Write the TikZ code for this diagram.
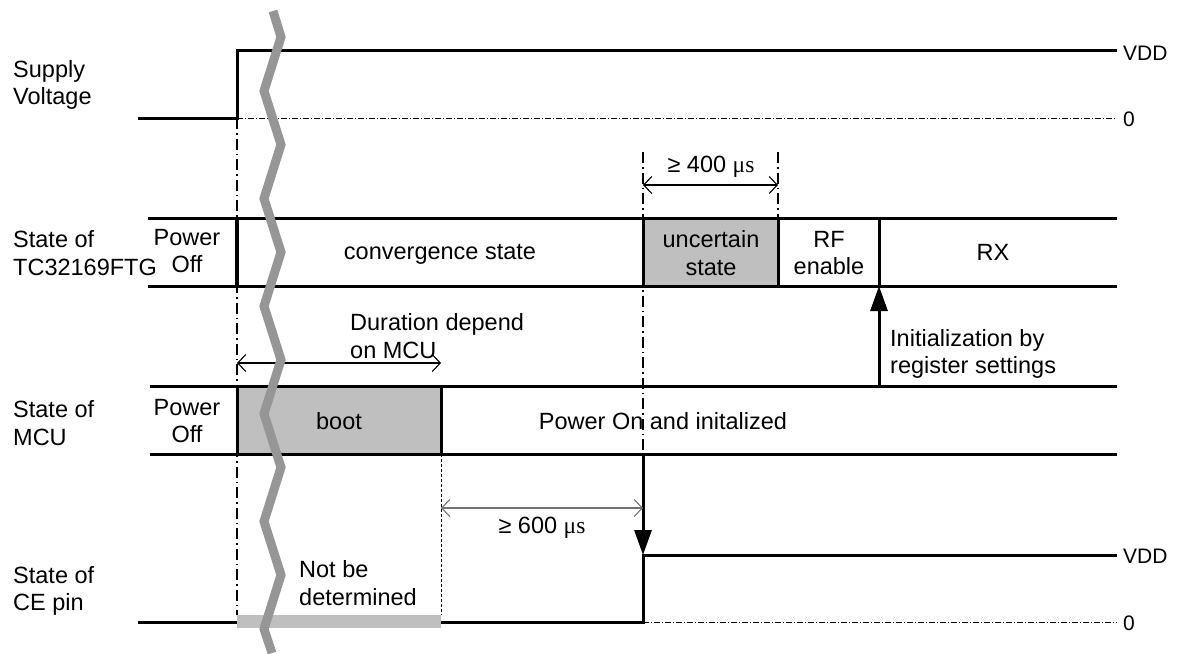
\documentclass[tikz,border=0pt]{standalone}
\usepackage{fontspec}
\setmainfont{Liberation Sans}
\newfontfamily\muserif{Liberation Serif}
\usetikzlibrary{arrows.meta}
\newcommand{\usec}{{\muserif μs}}
\begin{document}
\begin{tikzpicture}[x=1pt,y=-1pt,
		every node/.style={inner sep=0pt,font=\fontsize{23.5}{27.5}\selectfont},
		lvl/.style={font=\fontsize{21}{25}\selectfont,anchor=west},
		sig/.style={line width=3pt,line join=miter},
		zero/.style={line width=0.9pt,dash pattern=on 6pt off 2pt on 1pt off 2pt},
		tline/.style={line width=1.8pt,dash pattern=on 11pt off 4pt on 1.5pt off 4pt},
		dim/.style={line width=1.1pt,{Straight Barb[length=8pt,width=17pt]}-{Straight Barb[length=8pt,width=17pt]}},
		cause/.style={line width=3pt,-{Triangle[length=25pt,width=17pt]}},
		busy/.style={fill=black!25}]
	\useasboundingbox (0,0) rectangle (1177,653);
	\coordinate (pwr) at (237,363);
	\coordinate (bootend) at (441,363);
	\coordinate (u0) at (643,185);
	\coordinate (u1) at (778,185);
	\coordinate (w0) at (441,508);
	\coordinate (w1) at (643,508);
	\coordinate (cefrom) at (643,454);
	\coordinate (ceto) at (643,555);
	\coordinate (regfrom) at (879,386);
	\coordinate (regto) at (879,286);

	\fill[busy] (643,218) rectangle (778,286);
	\fill[busy] (237,386) rectangle (441,454);
	\fill[busy] (237,615) rectangle (441,628);

	\draw[zero] (237,118) -- (1117,118);
	\draw[zero] (643,622) -- (1117,622);
	\draw[tline] (237,118) -- (237,615);
	\draw[tline] (643,152) -- (643,454);
	\draw[tline] (778,152) -- (778,218);
	\draw[densely dashed,line width=0.9pt] (441,454) -- (441,615);

	\draw[sig] (138,118) -- (237,118) -- (237,50) -- (1117,50);
	\draw[sig] (148,218) -- (1117,218) (148,286) -- (1117,286);
	\draw[sig] \foreach \x in {643,778,879} {(\x,218) -- (\x,286)};
	\draw[sig,line width=3.8pt] (237,218) -- (237,286);
	\draw[sig] (150,386) -- (1117,386) (150,454) -- (1117,454);
	\draw[sig] (237,386) -- (237,454) (441,386) -- (441,454);
	\draw[sig] (138,622) -- (237,622) (441,622) -- (643,622) -- (643,555) -- (1117,555);

	\draw[cause] (cefrom) -- (ceto);
	\draw[cause] (regfrom) -- (regto);
	\draw[dim] (pwr) -- (bootend);
	\draw[dim] (u0) -- (u1);
	\draw[dim,draw=black!55] (w0) -- (w1);

	\node[anchor=west,align=left] (supply) at (13,85) {Supply\\Voltage};
	\node[anchor=west,align=left] (tclbl) at (13,253) {State of\\TC32169FTG};
	\node[anchor=west,align=left] (mculbl) at (13,423) {State of\\MCU};
	\node[anchor=west,align=left] (celbl) at (13,591) {State of\\CE pin};
	\node[align=center] (tcoff) at (187,251) {Power\\Off};
	\node[align=center] (mcuoff) at (187,421) {Power\\Off};
	\node (conv) at (440,254) {convergence state};
	\node[align=center] (unc) at (711,253) {uncertain\\state};
	\node[align=center] (rfen) at (829,253) {RF\\enable};
	\node (rx) at (993,252) {RX};
	\node (boot) at (339,421) {boot};
	\node (pon) at (663,421) {Power On and initalized};
	\node[anchor=west,align=left] (dur) at (350,336) {Duration depend\\on MCU};
	\node[anchor=west,align=left] (init) at (890,354) {Initialization by\\register settings};
	\node[anchor=west,align=left] (nbd) at (299,583) {Not be\\determined};
	\node (t400) at (711,167) {≥ 400 \usec};
	\node (t600) at (542,528) {≥ 600 \usec};
	\node[lvl] (vddsup) at (1123,53) {VDD};
	\node[lvl] (zsup) at (1123,119) {0};
	\node[lvl] (vddce) at (1123,556) {VDD};
	\node[lvl] (zce) at (1123,623) {0};

	\draw[line width=9pt,black!41,line join=miter] (273,11)
		\foreach \k in {0,...,5} {-- (281,{37+107.6*\k}) -- (264,{91+107.6*\k})} -- (272,653);
\end{tikzpicture}
\end{document}
